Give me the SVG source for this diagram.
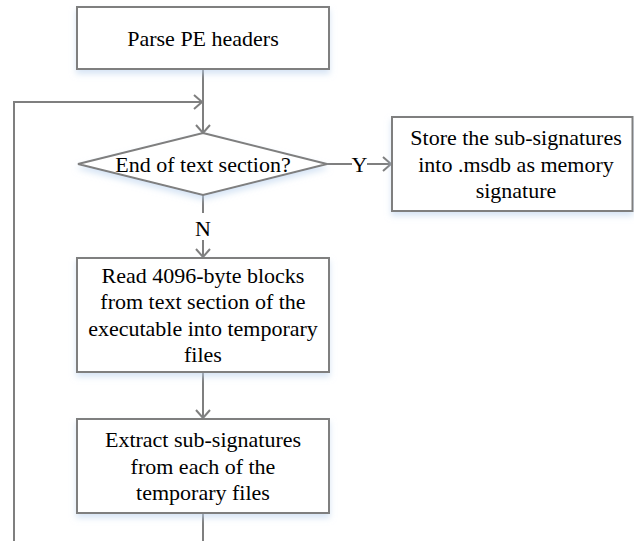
<svg xmlns="http://www.w3.org/2000/svg" width="634" height="541" viewBox="0 0 634 541">
  <defs>
    <style>
      .shape { fill: #ffffff; stroke: #7f7f7f; stroke-width: 2; filter: url(#soft-shadow); }
      .line { fill: none; stroke: #7f7f7f; stroke-width: 2; }
      text { font-family: 'Liberation Serif', serif; font-size: 22px; fill: #000000; text-anchor: middle; }
    </style>
    <filter id="soft-shadow" x="-10%" y="-10%" width="120%" height="140%">
      <feGaussianBlur in="SourceAlpha" stdDeviation="3" result="blur"/>
      <feOffset in="blur" dx="0" dy="4" result="off"/>
      <feFlood flood-color="#bcd3ee" flood-opacity="0.6"/>
      <feComposite in2="off" operator="in" result="shadow"/>
      <feMerge>
        <feMergeNode in="shadow"/>
        <feMergeNode in="SourceGraphic"/>
      </feMerge>
    </filter>
    <marker id="open-arrow" viewBox="0 0 10 16" refX="9" refY="8" markerWidth="10" markerHeight="16" markerUnits="userSpaceOnUse" orient="auto">
      <path d="M1,1 L9,8 L1,15" fill="none" stroke="#7f7f7f" stroke-width="2"/>
    </marker>
  </defs>

  <!-- connectors -->
  <g id="connectors">
    <!-- loop back from the bottom into the decision -->
    <polyline class="line" points="203,541 203,513"/>
    <polyline class="line" points="14,541 14,102 202,102" marker-end="url(#open-arrow)"/>
    <!-- parse -> decision -->
    <line class="line" x1="203" y1="69" x2="203" y2="133" marker-end="url(#open-arrow)"/>
    <!-- decision -> store (Y) -->
    <line class="line" x1="327" y1="164" x2="352" y2="164"/>
    <line class="line" x1="367" y1="164" x2="391" y2="164" marker-end="url(#open-arrow)"/>
    <text x="359.5" y="171.5">Y</text>
    <!-- decision -> read (N) -->
    <line class="line" x1="203" y1="195" x2="203" y2="213"/>
    <line class="line" x1="203" y1="240" x2="203" y2="257" marker-end="url(#open-arrow)"/>
    <text x="203" y="235.5">N</text>
    <!-- read -> extract -->
    <line class="line" x1="203" y1="372" x2="203" y2="418" marker-end="url(#open-arrow)"/>
  </g>

  <g id="parse-headers">
    <rect class="shape" x="77" y="7" width="252" height="62"/>
    <text x="203" y="45.5">Parse PE headers</text>
  </g>

  <g id="end-of-section">
    <polygon class="shape" points="203,133 327,164 203,195 78,164"/>
    <text x="203" y="171.5">End of text section?</text>
  </g>

  <g id="store-signature">
    <rect class="shape" x="392" y="117" width="240.5" height="94"/>
    <text x="516" y="145">Store the sub-signatures</text>
    <text x="516" y="171.5">into .msdb as memory</text>
    <text x="516" y="198">signature</text>
  </g>

  <g id="read-blocks">
    <rect class="shape" x="77" y="258" width="252" height="114"/>
    <text x="203" y="282.5">Read 4096-byte blocks</text>
    <text x="203" y="309">from text section of the</text>
    <text x="203" y="335.5">executable into temporary</text>
    <text x="203" y="362">files</text>
  </g>

  <g id="extract-subsignatures">
    <rect class="shape" x="77" y="419" width="252" height="94"/>
    <text x="203" y="447">Extract sub-signatures</text>
    <text x="203" y="473.5">from each of the</text>
    <text x="203" y="500">temporary files</text>
  </g>
</svg>
